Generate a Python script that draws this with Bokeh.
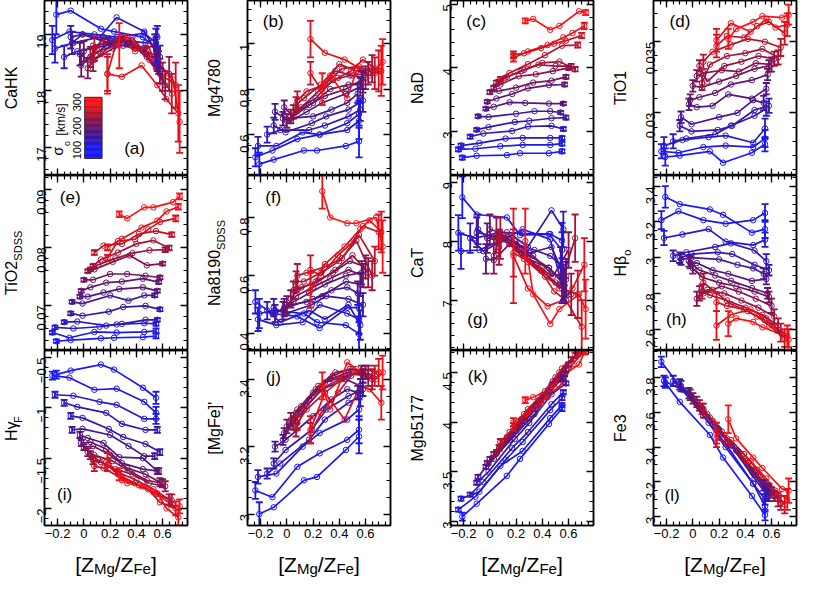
import math
import numpy as np
from bokeh.plotting import figure
from bokeh.models import (Range1d, LinearAxis, SingleIntervalTicker, CustomJSTickFormatter,
                          Label, ColumnDataSource)
from bokeh.layouts import row, column
from bokeh.embed import file_html
from bokeh.resources import INLINE
from bokeh.core.properties import value

FONT = "Liberation Sans"

# ---------------- data ----------------
SIGMA = [100, 113, 126, 140, 153, 166, 180, 193, 206, 220, 233, 246, 260, 273, 286, 300]

ZMGFE = [
    [-0.21, -0.10, 0.13, 0.23, 0.45, 0.55],
    [-0.24, -0.11, 0.08, 0.25, 0.46, 0.55],
    [-0.22, -0.08, 0.12, 0.25, 0.46, 0.55],
    [-0.15, -0.05, 0.17, 0.29, 0.47, 0.56],
    [-0.10, -0.01, 0.19, 0.30, 0.47, 0.58],
    [-0.09, -0.01, 0.20, 0.34, 0.46, 0.54],
    [-0.03, 0.03, 0.15, 0.27, 0.45, 0.56],
    [-0.02, 0.05, 0.17, 0.29, 0.45, 0.57],
    [0.00, 0.07, 0.20, 0.33, 0.47, 0.58],
    [0.03, 0.08, 0.22, 0.35, 0.48, 0.60],
    [0.05, 0.11, 0.24, 0.37, 0.50, 0.62],
    [0.07, 0.13, 0.26, 0.40, 0.53, 0.65],
    [0.08, 0.15, 0.29, 0.42, 0.55, 0.67],
    [0.18, 0.26, 0.39, 0.49, 0.58, 0.70],
    [0.18, 0.29, 0.44, 0.56, 0.63, 0.72],
    [0.27, 0.33, 0.46, 0.53, 0.68, 0.73],
]

CaHK = [
    [19.35, 19.42, 19.10, 19.05, 18.95, 18.75],
    [18.90, 19.05, 19.00, 18.95, 19.02, 18.85],
    [18.75, 18.85, 18.95, 19.30, 19.05, 18.70],
    [18.60, 18.70, 18.80, 18.90, 18.85, 18.95],
    [18.95, 19.00, 18.85, 18.80, 18.70, 18.60],
    [18.85, 19.00, 18.90, 18.85, 18.75, 18.80],
    [18.65, 18.55, 18.95, 18.90, 18.70, 18.55],
    [18.45, 18.60, 18.80, 18.95, 18.75, 18.50],
    [18.70, 18.80, 18.85, 18.90, 18.65, 18.35],
    [18.40, 18.55, 18.75, 18.85, 18.60, 18.25],
    [18.60, 18.70, 18.80, 18.95, 18.55, 18.10],
    [18.55, 18.65, 18.90, 18.80, 18.50, 18.30],
    [18.75, 18.85, 18.95, 18.75, 18.40, 17.95],
    [18.30, 18.95, 18.70, 18.80, 18.30, 18.10],
    [18.30, 18.25, 18.45, 18.10, 17.85, 17.60],
    [18.80, 18.95, 18.70, 18.60, 18.20, 17.45],
]
CaHK_ef = [0.35, 0.25, 0.25, 0.20, 0.20, 0.20, 0.20, 0.20, 0.18, 0.18, 0.18, 0.20, 0.22, 0.30, 0.35, 0.40]
CaHK_el = [0.25, 0.25, 0.25, 0.20, 0.20, 0.20, 0.20, 0.20, 0.22, 0.25, 0.25, 0.30, 0.35, 0.40, 0.50, 0.55]

Mg4780 = [
    [0.47, 0.49, 0.53, 0.53, 0.55, 0.57],
    [0.50, 0.53, 0.58, 0.60, 0.62, 0.66],
    [0.55, 0.55, 0.61, 0.60, 0.65, 0.69],
    [0.60, 0.62, 0.62, 0.64, 0.68, 0.71],
    [0.64, 0.61, 0.65, 0.68, 0.71, 0.75],
    [0.70, 0.67, 0.68, 0.71, 0.74, 0.78],
    [0.67, 0.66, 0.70, 0.74, 0.78, 0.81],
    [0.72, 0.68, 0.73, 0.77, 0.80, 0.84],
    [0.66, 0.70, 0.74, 0.80, 0.82, 0.83],
    [0.68, 0.71, 0.76, 0.84, 0.86, 0.85],
    [0.70, 0.72, 0.79, 0.88, 0.86, 0.87],
    [0.73, 0.76, 0.82, 0.91, 0.88, 0.89],
    [0.75, 0.79, 0.82, 0.89, 0.90, 0.87],
    [0.87, 0.80, 0.85, 0.88, 0.93, 0.88],
    [1.02, 0.96, 0.93, 0.89, 0.86, 0.88],
    [0.80, 0.86, 0.76, 0.88, 0.89, 0.92],
]
Mg4780_ef = [0.05, 0.04, 0.04, 0.035, 0.035, 0.035, 0.03, 0.03, 0.03, 0.03, 0.03, 0.035, 0.04, 0.05, 0.08, 0.07]
Mg4780_el = [0.07, 0.08, 0.06, 0.05, 0.05, 0.04, 0.04, 0.04, 0.045, 0.05, 0.05, 0.06, 0.07, 0.09, 0.11, 0.10]

NaD = [
    [2.59, 2.62, 2.63, 2.66, 2.66, 2.69],
    [2.72, 2.73, 2.77, 2.79, 2.79, 2.81],
    [2.78, 2.82, 2.89, 2.90, 2.90, 2.90],
    [2.92, 2.97, 3.01, 3.08, 3.09, 3.04],
    [3.03, 3.07, 3.15, 3.17, 3.21, 3.22],
    [3.24, 3.23, 3.28, 3.32, 3.32, 3.30],
    [3.36, 3.39, 3.46, 3.45, 3.44, 3.44],
    [3.47, 3.52, 3.59, 3.68, 3.73, 3.74],
    [3.62, 3.64, 3.69, 3.77, 3.80, 3.86],
    [3.69, 3.74, 3.87, 3.90, 3.95, 4.00],
    [3.77, 3.84, 3.95, 4.05, 4.03, 4.03],
    [3.78, 3.86, 3.97, 4.08, 4.10, 3.98],
    [3.82, 3.92, 4.06, 4.20, 4.35, 4.36],
    [4.21, 4.23, 4.31, 4.38, 4.43, 4.51],
    [4.16, 4.26, 4.36, 4.48, 4.55, 4.66],
    [4.74, 4.77, 4.60, 4.66, 4.89, 4.87],
]
NaD_ef = [0.03, 0.03, 0.03, 0.03, 0.025, 0.025, 0.025, 0.025, 0.03, 0.03, 0.03, 0.035, 0.04, 0.05, 0.06, 0.04]
NaD_el = [0.03, 0.03, 0.03, 0.03, 0.03, 0.025, 0.025, 0.03, 0.03, 0.03, 0.035, 0.035, 0.04, 0.04, 0.05, 0.04]

TiO1 = [
    [0.0269, 0.0270, 0.0273, 0.0265, 0.0272, 0.0278],
    [0.0273, 0.0272, 0.0276, 0.0277, 0.0276, 0.0282],
    [0.0277, 0.0281, 0.0283, 0.0284, 0.0279, 0.0289],
    [0.0280, 0.0282, 0.0285, 0.0291, 0.0298, 0.0303],
    [0.0291, 0.0287, 0.0288, 0.0291, 0.0302, 0.0305],
    [0.0297, 0.0292, 0.0297, 0.0300, 0.0309, 0.0307],
    [0.0306, 0.0304, 0.0305, 0.0313, 0.0310, 0.0317],
    [0.0309, 0.0311, 0.0314, 0.0320, 0.0323, 0.0327],
    [0.0319, 0.0318, 0.0322, 0.0326, 0.0331, 0.0333],
    [0.0326, 0.0328, 0.0330, 0.0329, 0.0335, 0.0334],
    [0.0333, 0.0322, 0.0333, 0.0336, 0.0340, 0.0338],
    [0.0321, 0.0334, 0.0340, 0.0342, 0.0345, 0.0339],
    [0.0336, 0.0343, 0.0348, 0.0352, 0.0350, 0.0346],
    [0.0347, 0.0354, 0.0353, 0.0361, 0.0364, 0.0356],
    [0.0351, 0.0363, 0.0357, 0.0366, 0.0360, 0.0362],
    [0.0352, 0.0359, 0.0364, 0.0368, 0.0367, 0.0369],
]
TiO1_ef = [0.0006, 0.0005, 0.0006, 0.0005, 0.0004, 0.0004, 0.0004, 0.0004, 0.0004, 0.0004, 0.0004, 0.0005, 0.0005, 0.0008, 0.0008, 0.0007]
TiO1_el = [0.0005, 0.0006, 0.0007, 0.0005, 0.0005, 0.0005, 0.0004, 0.0004, 0.0004, 0.0005, 0.0005, 0.0005, 0.0006, 0.0008, 0.0008, 0.0007]

TiO2 = [
    [0.0638, 0.0640, 0.0643, 0.0644, 0.0645, 0.0647],
    [0.0653, 0.0644, 0.0654, 0.0653, 0.0654, 0.0656],
    [0.0662, 0.0660, 0.0663, 0.0667, 0.0669, 0.0668],
    [0.0671, 0.0672, 0.0665, 0.0668, 0.0675, 0.0675],
    [0.0686, 0.0682, 0.0689, 0.0697, 0.0699, 0.0693],
    [0.0706, 0.0703, 0.0717, 0.0708, 0.0717, 0.0717],
    [0.0715, 0.0715, 0.0722, 0.0728, 0.0731, 0.0725],
    [0.0725, 0.0731, 0.0739, 0.0741, 0.0746, 0.0740],
    [0.0744, 0.0744, 0.0754, 0.0754, 0.0751, 0.0748],
    [0.0759, 0.0762, 0.0775, 0.0786, 0.0769, 0.0772],
    [0.0762, 0.0770, 0.0781, 0.0790, 0.0795, 0.0796],
    [0.0768, 0.0779, 0.0791, 0.0806, 0.0812, 0.0799],
    [0.0791, 0.0803, 0.0806, 0.0823, 0.0828, 0.0822],
    [0.0782, 0.0811, 0.0814, 0.0831, 0.0844, 0.0850],
    [0.0800, 0.0815, 0.0834, 0.0846, 0.0862, 0.0870],
    [0.0857, 0.0850, 0.0869, 0.0869, 0.0878, 0.0888],
]
TiO2_ef = [0.0003, 0.0003, 0.0003, 0.0003, 0.0003, 0.0003, 0.0003, 0.0003, 0.0003, 0.0003, 0.0003, 0.0003, 0.0004, 0.0005, 0.0005, 0.0005]
TiO2_el = [0.0004, 0.0004, 0.0003, 0.0003, 0.0003, 0.0003, 0.0003, 0.0003, 0.0003, 0.0003, 0.0004, 0.0004, 0.0004, 0.0005, 0.0005, 0.0005]

Na8190 = [
    [0.47, 0.48, 0.47, 0.44, 0.43, 0.40],
    [0.51, 0.47, 0.46, 0.42, 0.49, 0.49],
    [0.45, 0.43, 0.44, 0.50, 0.47, 0.45],
    [0.48, 0.44, 0.48, 0.45, 0.50, 0.43],
    [0.49, 0.47, 0.50, 0.53, 0.52, 0.50],
    [0.47, 0.49, 0.52, 0.55, 0.56, 0.54],
    [0.48, 0.50, 0.51, 0.53, 0.58, 0.57],
    [0.49, 0.51, 0.54, 0.57, 0.60, 0.61],
    [0.50, 0.53, 0.56, 0.59, 0.62, 0.60],
    [0.52, 0.55, 0.58, 0.61, 0.65, 0.63],
    [0.55, 0.56, 0.58, 0.62, 0.67, 0.61],
    [0.58, 0.58, 0.61, 0.65, 0.72, 0.60],
    [0.60, 0.61, 0.63, 0.66, 0.74, 0.65],
    [0.62, 0.60, 0.67, 0.71, 0.77, 0.75],
    [0.55, 0.64, 0.70, 0.76, 0.79, 0.75],
    [0.89, 0.80, 0.78, 0.78, 0.80, 0.70],
]
Na8190_ef = [0.05, 0.04, 0.04, 0.03, 0.03, 0.03, 0.03, 0.03, 0.03, 0.03, 0.03, 0.035, 0.04, 0.05, 0.06, 0.06]
Na8190_el = [0.06, 0.05, 0.05, 0.05, 0.04, 0.04, 0.04, 0.04, 0.04, 0.04, 0.05, 0.05, 0.05, 0.06, 0.07, 0.09]

CaT = [
    [8.74, 8.45, 8.40, 8.10, 8.12, 7.85],
    [8.14, 8.05, 8.15, 8.13, 8.12, 8.01],
    [7.83, 7.85, 8.05, 8.20, 8.03, 7.25],
    [8.05, 7.83, 8.10, 7.90, 8.52, 8.20],
    [8.15, 8.10, 8.00, 7.80, 7.90, 7.35],
    [8.20, 8.05, 7.95, 7.85, 7.75, 7.60],
    [7.70, 7.68, 7.95, 7.80, 7.55, 7.30],
    [8.05, 8.10, 7.95, 7.70, 7.55, 7.25],
    [8.20, 8.15, 7.95, 7.75, 7.45, 7.40],
    [7.75, 8.10, 7.85, 7.60, 7.40, 7.85],
    [8.10, 8.05, 7.80, 7.55, 7.30, 7.10],
    [7.90, 8.15, 7.75, 7.50, 7.20, 8.05],
    [8.05, 7.95, 7.65, 7.40, 7.20, 7.10],
    [7.80, 7.70, 7.50, 7.15, 7.00, 6.55],
    [7.75, 7.20, 6.90, 7.00, 7.20, 7.60],
    [8.00, 7.10, 6.60, 6.85, 7.10, 6.85],
]
CaT_ef = [0.35, 0.30, 0.30, 0.25, 0.25, 0.25, 0.25, 0.25, 0.25, 0.30, 0.30, 0.30, 0.35, 0.40, 0.80, 0.55]
CaT_el = [0.30, 0.30, 0.30, 0.30, 0.30, 0.30, 0.30, 0.30, 0.30, 0.30, 0.35, 0.40, 0.40, 0.45, 0.45, 0.50]

Hbeta = [
    [3.34, 3.30, 3.27, 3.24, 3.14, 3.16],
    [3.21, 3.26, 3.21, 3.19, 3.21, 3.25],
    [3.11, 3.13, 3.16, 3.09, 3.07, 3.10],
    [3.01, 3.03, 3.06, 3.08, 3.04, 2.98],
    [3.00, 3.02, 3.03, 3.02, 2.96, 2.93],
    [2.99, 3.00, 2.99, 2.96, 2.94, 2.91],
    [2.98, 2.97, 2.93, 2.91, 2.87, 2.88],
    [2.97, 2.93, 2.90, 2.87, 2.83, 2.80],
    [2.94, 2.89, 2.86, 2.84, 2.81, 2.78],
    [2.77, 2.80, 2.84, 2.81, 2.77, 2.73],
    [2.80, 2.82, 2.80, 2.76, 2.72, 2.67],
    [2.81, 2.79, 2.76, 2.72, 2.68, 2.62],
    [2.86, 2.82, 2.74, 2.70, 2.65, 2.58],
    [2.75, 2.73, 2.71, 2.67, 2.62, 2.55],
    [2.62, 2.68, 2.71, 2.66, 2.61, 2.56],
    [2.63, 2.66, 2.64, 2.61, 2.57, 2.54],
]
Hbeta_ef = [0.06, 0.05, 0.04, 0.03, 0.03, 0.03, 0.03, 0.03, 0.03, 0.04, 0.04, 0.04, 0.05, 0.05, 0.08, 0.07]
Hbeta_el = [0.05, 0.05, 0.04, 0.04, 0.03, 0.03, 0.03, 0.03, 0.03, 0.04, 0.04, 0.04, 0.05, 0.05, 0.06, 0.06]

Hgamma = [
    [-0.67, -0.63, -0.57, -0.62, -0.80, -0.90],
    [-0.68, -0.70, -0.82, -0.81, -0.94, -1.05],
    [-0.87, -0.88, -0.94, -0.97, -1.11, -1.11],
    [-0.95, -0.99, -1.05, -1.16, -1.22, -1.22],
    [-1.08, -1.10, -1.21, -1.29, -1.36, -1.44],
    [-1.22, -1.21, -1.27, -1.38, -1.48, -1.48],
    [-1.27, -1.30, -1.35, -1.49, -1.50, -1.63],
    [-1.35, -1.34, -1.41, -1.55, -1.61, -1.63],
    [-1.39, -1.38, -1.47, -1.60, -1.66, -1.74],
    [-1.44, -1.47, -1.53, -1.63, -1.72, -1.75],
    [-1.47, -1.52, -1.61, -1.66, -1.75, -1.78],
    [-1.52, -1.54, -1.64, -1.72, -1.81, -1.91],
    [-1.58, -1.60, -1.70, -1.77, -1.86, -1.92],
    [-1.57, -1.66, -1.75, -1.81, -1.94, -2.00],
    [-1.52, -1.72, -1.78, -1.85, -2.00, -2.09],
    [-1.66, -1.75, -1.78, -1.84, -1.97, -1.98],
]
Hgamma_ef = [0.04, 0.04, 0.03, 0.03, 0.03, 0.03, 0.03, 0.03, 0.03, 0.04, 0.04, 0.04, 0.05, 0.06, 0.07, 0.06]
Hgamma_el = [0.06, 0.06, 0.05, 0.03, 0.03, 0.03, 0.03, 0.03, 0.04, 0.04, 0.05, 0.05, 0.06, 0.07, 0.08, 0.07]

MgFe = [
    [3.00, 3.02, 3.10, 3.11, 3.19, 3.23],
    [3.07, 3.05, 3.14, 3.18, 3.22, 3.25],
    [3.11, 3.12, 3.20, 3.24, 3.28, 3.31],
    [3.12, 3.15, 3.22, 3.28, 3.33, 3.35],
    [3.15, 3.19, 3.25, 3.31, 3.35, 3.37],
    [3.20, 3.22, 3.29, 3.34, 3.37, 3.36],
    [3.22, 3.26, 3.32, 3.37, 3.40, 3.38],
    [3.24, 3.28, 3.34, 3.39, 3.41, 3.42],
    [3.26, 3.30, 3.36, 3.40, 3.42, 3.41],
    [3.28, 3.31, 3.37, 3.41, 3.43, 3.42],
    [3.27, 3.32, 3.38, 3.42, 3.43, 3.41],
    [3.25, 3.31, 3.37, 3.40, 3.42, 3.40],
    [3.27, 3.31, 3.36, 3.40, 3.42, 3.41],
    [3.24, 3.30, 3.36, 3.41, 3.43, 3.42],
    [3.25, 3.36, 3.28, 3.38, 3.37, 3.33],
    [3.38, 3.31, 3.45, 3.43, 3.40, 3.42],
]
MgFe_ef = [0.035, 0.025, 0.02, 0.015, 0.015, 0.015, 0.015, 0.015, 0.02, 0.02, 0.02, 0.02, 0.02, 0.03, 0.04, 0.04]
MgFe_el = [0.05, 0.04, 0.03, 0.03, 0.02, 0.02, 0.02, 0.02, 0.02, 0.02, 0.03, 0.03, 0.03, 0.04, 0.05, 0.05]

Mgb5177 = [
    [3.05, 3.18, 3.46, 3.63, 3.98, 4.14],
    [3.12, 3.25, 3.56, 3.71, 4.04, 4.17],
    [3.23, 3.30, 3.62, 3.80, 4.12, 4.24],
    [3.27, 3.40, 3.74, 3.90, 4.18, 4.30],
    [3.39, 3.50, 3.83, 3.99, 4.28, 4.39],
    [3.45, 3.58, 3.88, 4.08, 4.32, 4.43],
    [3.55, 3.63, 3.82, 4.01, 4.30, 4.45],
    [3.59, 3.68, 3.87, 4.05, 4.33, 4.48],
    [3.63, 3.73, 3.94, 4.13, 4.38, 4.53],
    [3.68, 3.76, 3.98, 4.17, 4.41, 4.58],
    [3.70, 3.80, 4.03, 4.22, 4.45, 4.63],
    [3.74, 3.85, 4.08, 4.27, 4.50, 4.67],
    [3.80, 3.90, 4.13, 4.31, 4.54, 4.69],
    [3.95, 4.03, 4.19, 4.35, 4.56, 4.72],
    [4.00, 4.10, 4.25, 4.40, 4.58, 4.72],
    [4.22, 4.25, 4.33, 4.45, 4.58, 4.73],
]
Mgb5177_ef = [0.04, 0.02, 0.02, 0.02, 0.02, 0.02, 0.02, 0.02, 0.02, 0.02, 0.02, 0.03, 0.03, 0.04, 0.04, 0.03]
Mgb5177_el = [0.03, 0.02, 0.02, 0.02, 0.02, 0.02, 0.02, 0.02, 0.02, 0.02, 0.02, 0.03, 0.03, 0.03, 0.04, 0.04]

Fe3 = [
    [3.77, 3.66, 3.47, 3.34, 3.12, 3.01],
    [3.89, 3.76, 3.58, 3.42, 3.19, 3.06],
    [3.78, 3.73, 3.54, 3.40, 3.19, 3.10],
    [3.78, 3.72, 3.52, 3.41, 3.22, 3.13],
    [3.76, 3.69, 3.51, 3.41, 3.24, 3.12],
    [3.75, 3.69, 3.50, 3.38, 3.25, 3.18],
    [3.71, 3.66, 3.55, 3.43, 3.26, 3.16],
    [3.70, 3.64, 3.53, 3.42, 3.27, 3.15],
    [3.68, 3.62, 3.50, 3.38, 3.26, 3.16],
    [3.66, 3.62, 3.49, 3.37, 3.25, 3.14],
    [3.64, 3.59, 3.47, 3.35, 3.23, 3.12],
    [3.62, 3.57, 3.45, 3.32, 3.20, 3.10],
    [3.61, 3.55, 3.42, 3.31, 3.19, 3.08],
    [3.45, 3.42, 3.36, 3.27, 3.18, 3.07],
    [3.48, 3.44, 3.32, 3.22, 3.15, 3.10],
    [3.56, 3.45, 3.34, 3.28, 3.16, 3.15],
]
Fe3_ef = [0.03, 0.03, 0.03, 0.03, 0.03, 0.03, 0.03, 0.03, 0.03, 0.03, 0.03, 0.03, 0.04, 0.05, 0.06, 0.08]
Fe3_el = [0.03, 0.03, 0.03, 0.03, 0.03, 0.03, 0.03, 0.03, 0.03, 0.03, 0.03, 0.04, 0.04, 0.05, 0.06, 0.07]

X_TICKS_INTERVAL = 0.2
CB_TICKS = [100, 200, 300]
X_TITLE = [("[Z", 0), ("Mg", 1), ("/Z", 0), ("Fe", 1), ("]", 0)]

# ---------------- layout/style ----------------
XR = (-0.3, 0.79)
FW, FH = 143, 175          # frame size of every panel
TS = 24                    # width of the y-title strip left of each panel
BL = 20                    # left border (tick labels)
BR = 16                    # right border (gap to next column)
BB = 22                    # bottom border of bottom row (tick labels)
XT_H = 30                  # height of the x-title strip

PANELS = [
    dict(d=CaHK, ef=CaHK_ef, el=CaHK_el, yr=(16.5, 19.6), tk=1.0, mn=5,
         title=[("CaHK", 0)], let=("(a)", 0.63, 0.156)),
    dict(d=Mg4780, ef=Mg4780_ef, el=Mg4780_el, yr=(0.42, 1.19), tk=0.2, mn=4,
         title=[("Mg4780", 0)], let=("(b)", 0.18, 0.88)),
    dict(d=NaD, ef=NaD_ef, el=NaD_el, yr=(2.31, 5.06), tk=1.0, mn=5,
         title=[("NaD", 0)], let=("(c)", 0.18, 0.88)),
    dict(d=TiO1, ef=TiO1_ef, el=TiO1_el, yr=(0.0256, 0.0379), tk=0.005, mn=5,
         title=[("TiO1", 0)], let=("(d)", 0.185, 0.88)),
    dict(d=TiO2, ef=TiO2_ef, el=TiO2_el, yr=(0.0622, 0.0924), tk=0.01, mn=5,
         title=[("TiO2", 0), ("SDSS", 1)], let=("(e)", 0.18, 0.877)),
    dict(d=Na8190, ef=Na8190_ef, el=Na8190_el, yr=(0.343, 0.944), tk=0.2, mn=4,
         title=[("Na8190", 0), ("SDSS", 1)], let=("(f)", 0.18, 0.877)),
    dict(d=CaT, ef=CaT_ef, el=CaT_el, yr=(6.15, 9.11), tk=1.0, mn=5,
         title=[("CaT", 0)], let=("(g)", 0.19, 0.18)),
    dict(d=Hbeta, ef=Hbeta_ef, el=Hbeta_el, yr=(2.48, 3.46), tk=0.2, mn=4,
         title=[("H\u03b2", 0), ("o", 1)], let=("(h)", 0.16, 0.18)),
    dict(d=Hgamma, ef=Hgamma_ef, el=Hgamma_el, yr=(-2.17, -0.43), tk=0.5, mn=5,
         title=[("H\u03b3", 0), ("F", 1)], let=("(i)", 0.14, 0.175)),
    dict(d=MgFe, ef=MgFe_ef, el=MgFe_el, yr=(2.966, 3.485), tk=0.2, mn=4,
         title=[("[MgFe]'", 0)], let=("(j)", 0.18, 0.845)),
    dict(d=Mgb5177, ef=Mgb5177_ef, el=Mgb5177_el, yr=(2.96, 4.72), tk=0.5, mn=5,
         title=[("Mgb5177", 0)], let=("(k)", 0.19, 0.85)),
    dict(d=Fe3, ef=Fe3_ef, el=Fe3_el, yr=(2.95, 3.955), tk=0.2, mn=4,
         title=[("Fe3", 0)], let=("(l)", 0.13, 0.17)),
]

CW = {'C': .722, 'a': .556, 'H': .722, 'K': .667, 'M': .833, 'g': .556, 'N': .722, 'D': .722,
      'T': .611, 'i': .222, 'O': .778, 'S': .667, 'F': .611, 'e': .556, 'b': .556, '[': .278,
      ']': .278, "'": .191, '\u03b2': .575, '\u03b3': .5, 'o': .556, 'Z': .611, '/': .278}


def tw(s, size):
    return sum(CW.get(ch, 0.556) for ch in s) * size


def sigma_color(s):
    t = min(max((s - 100.0) / 200.0, 0.0), 1.0)
    r = int(round(25 + 230 * t ** 1.5))
    g = int(round(25 - 10 * t))
    b = int(round(20 + 235 * (1 - t) ** 1.5))
    return "#%02x%02x%02x" % (r, g, b)


COLORS = [sigma_color(s) for s in SIGMA]

SHOW_FMT = "return (Math.round(tick*1e6)/1e6).toString().replace('-', '\u2212');"
HIDE_FMT = "return '';"


def make_axis(interval, minor, show):
    return LinearAxis(
        ticker=SingleIntervalTicker(interval=interval, num_minor_ticks=minor),
        formatter=CustomJSTickFormatter(code=SHOW_FMT if show else HIDE_FMT),
        axis_line_width=1.5, axis_line_color="black",
        major_tick_in=7, major_tick_out=0, minor_tick_in=4, minor_tick_out=0,
        major_tick_line_width=1.3, minor_tick_line_width=1.2,
        major_tick_line_color="black", minor_tick_line_color="black",
        major_label_text_font=FONT,
        major_label_text_font_size="13px" if show else "0px",
        major_label_text_color="black",
        major_label_standoff=3 if show else 0,
        axis_label=None)


def blank_fig(w, h):
    f = figure(width=w, height=h, x_range=Range1d(0, w), y_range=Range1d(0, h),
               output_backend="svg", toolbar_location=None,
               x_axis_location=None, y_axis_location=None,
               min_border_left=0, min_border_right=0, min_border_top=0, min_border_bottom=0)
    f.xgrid.visible = False
    f.ygrid.visible = False
    f.outline_line_color = None
    f.background_fill_color = "white"
    f.border_fill_color = "white"
    return f


def title_strip(parts, h, yc):
    """Vertical y-axis title (with optional subscript) in its own strip."""
    f = blank_fig(TS, h)
    sizes = [11 if sub else 16 for _, sub in parts]
    widths = [tw(t, s) for (t, _), s in zip(parts, sizes)]
    pos = yc - sum(widths) / 2
    for (t, sub), s, w in zip(parts, sizes, widths):
        f.add_layout(Label(x=(17 if sub else 10.5), y=pos + w / 2, text=t, angle=math.pi / 2,
                           text_align="center", text_baseline="middle", text_font=FONT,
                           text_font_size="%dpx" % s, text_color="black"))
        pos += w
    return f


def xtitle_strip(w):
    f = blank_fig(w, XT_H)
    sizes = [15 if sub else 21 for _, sub in X_TITLE]
    widths = [tw(t, s) for (t, _), s in zip(X_TITLE, sizes)]
    cur = TS + BL + FW / 2 - sum(widths) / 2
    for (t, sub), s, wd in zip(X_TITLE, sizes, widths):
        f.add_layout(Label(x=cur, y=(9 if sub else 13), text=t, text_align="left",
                           text_baseline="alphabetic", text_font=FONT,
                           text_font_size="%dpx" % s, text_color="black"))
        cur += wd
    return f


def make_panel(k, spec):
    col, rw = k % 4, k // 4
    bottom = rw == 2
    y0, y1 = spec["yr"]
    p = figure(frame_width=FW, frame_height=FH,
               x_range=Range1d(*XR), y_range=Range1d(y0, y1),
               output_backend="svg", toolbar_location=None,
               x_axis_location=None, y_axis_location=None,
               min_border_left=BL, min_border_right=(2 if col == 3 else BR),
               min_border_top=0, min_border_bottom=(BB if bottom else 0))
    p.xgrid.visible = False
    p.ygrid.visible = False
    p.outline_line_color = "black"
    p.outline_line_width = 1.5
    p.background_fill_color = "white"
    p.border_fill_color = "white"

    la = make_axis(spec["tk"], spec["mn"], True)
    la.major_label_orientation = math.pi / 2
    p.add_layout(la, "left")
    p.add_layout(make_axis(spec["tk"], spec["mn"], False), "right")
    p.add_layout(make_axis(X_TICKS_INTERVAL, 4, bottom), "below")
    p.add_layout(make_axis(X_TICKS_INTERVAL, 4, False), "above")

    data = spec["d"]
    ml = ColumnDataSource(dict(xs=ZMGFE, ys=data, c=COLORS))
    px, py, pc = [], [], []
    ex, elo, ehi, ec = [], [], [], []
    for i in range(len(SIGMA)):
        for xv, yv in zip(ZMGFE[i], data[i]):
            px.append(xv); py.append(yv); pc.append(COLORS[i])
        for j, e in ((0, spec["ef"][i]), (-1, spec["el"][i])):
            ex.append(ZMGFE[i][j]); elo.append(data[i][j] - e); ehi.append(data[i][j] + e)
            ec.append(COLORS[i])
    pts = ColumnDataSource(dict(x=px, y=py, c=pc))
    err = ColumnDataSource(dict(x=ex, lo=elo, hi=ehi, c=ec))
    caps = ColumnDataSource(dict(x=ex + ex, y=elo + ehi, c=ec + ec))

    p.multi_line(xs="xs", ys="ys", line_color="c", line_width=1.7, source=ml)
    p.scatter(x="x", y="y", marker="circle", size=5.5, fill_color=None,
              line_color="c", line_width=1, source=pts)
    p.segment(x0="x", y0="lo", x1="x", y1="hi", line_color="c", line_width=1.8, source=err)
    p.scatter(x="x", y="y", marker="dash", size=7, line_color="c", line_width=1.8, source=caps)

    # panel letter
    lt, fx, fy = spec["let"]
    p.add_layout(Label(x=XR[0] + fx * (XR[1] - XR[0]), y=y0 + fy * (y1 - y0), text=lt,
                       text_align="center", text_baseline="middle", text_font=FONT,
                       text_font_size="17px", text_color="black"))

    # colour bar inside panel (a)
    if k == 0:
        p.extra_x_ranges = {"cb": Range1d(-2.33, 5.95)}
        p.extra_y_ranges = {"cb": Range1d(-6, 724)}
        lev = np.linspace(65, 320, 52)
        cols = [sigma_color(0.5 * (a + b)) for a, b in zip(lev[:-1], lev[1:])]
        p.quad(left=0, right=1, bottom=lev[:-1], top=lev[1:], fill_color=cols,
               line_color=cols, line_width=0.5, x_range_name="cb", y_range_name="cb")
        p.quad(left=[0], right=[1], bottom=[65], top=[320], fill_color=None,
               line_color="#333333", line_width=1, x_range_name="cb", y_range_name="cb")
        p.text(x=[-0.45] * len(CB_TICKS), y=CB_TICKS, text=[str(v) for v in CB_TICKS],
               angle=math.pi / 2, text_align="center", text_baseline="middle",
               text_font=value(FONT), text_font_size="11px", text_color="black",
               x_range_name="cb", y_range_name="cb")
        p.text(x=[-1.55, -1.05, -1.35], y=[95, 128, 228], text=["\u03c3", "o", "[km/s]"],
               angle=math.pi / 2, text_align="center", text_baseline="middle",
               text_font=value(FONT), text_font_size=["14px", "9px", "12px"], text_color="black",
               x_range_name="cb", y_range_name="cb")
    return p


rows = []
for rw in range(3):
    items = []
    for col in range(4):
        k = rw * 4 + col
        h = FH + (BB if rw == 2 else 0)
        yc = (BB if rw == 2 else 0) + FH / 2
        items.append(title_strip(PANELS[k]["title"], h, yc))
        items.append(make_panel(k, PANELS[k]))
    rows.append(row(*items))
rows.append(row(*[xtitle_strip(TS + BL + FW + (2 if col == 3 else BR)) for col in range(4)]))
layout = column(*rows)

open("out.html", "w").write(file_html(layout, INLINE))
